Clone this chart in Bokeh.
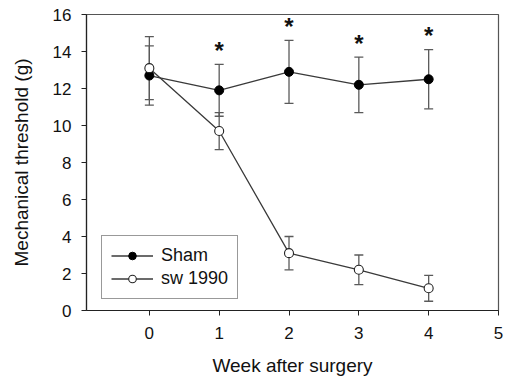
from bokeh.plotting import figure
from bokeh.models import (ColumnDataSource, Whisker, TeeHead, Legend, LegendItem,
                          FixedTicker, Range1d)
from bokeh.core.properties import value
from bokeh.embed import file_html
from bokeh.resources import INLINE

weeks = [0, 1, 2, 3, 4]
sham_mean = [12.7, 11.9, 12.9, 12.2, 12.5]
sham_err = [1.6, 1.4, 1.7, 1.5, 1.6]
sw_mean = [13.1, 9.7, 3.1, 2.2, 1.2]
sw_err = [1.7, 1.0, 0.9, 0.8, 0.7]
star_weeks = [1, 2, 3, 4]
x_ticks = [0, 1, 2, 3, 4, 5]
y_ticks = [0, 2, 4, 6, 8, 10, 12, 14, 16]

FONT = "Liberation Sans"
LINE = "#3a3a3a"
ERR = "#5a5a5a"

p = figure(width=505, height=383, output_backend="svg", toolbar_location=None,
           x_range=Range1d(-0.9, 5), y_range=Range1d(0, 16),
           min_border_left=86, min_border_right=7, min_border_top=14,
           min_border_bottom=73)
p.background_fill_color = "white"
p.border_fill_color = "white"
p.outline_line_color = "#555555"
p.outline_line_width = 1.2
p.xgrid.visible = False
p.ygrid.visible = False

for ax in (p.xaxis[0], p.yaxis[0]):
    ax.axis_line_color = "#222222"
    ax.axis_line_width = 1.2
    ax.major_tick_line_color = "#222222"
    ax.major_tick_in = 0
    ax.major_tick_out = 5
    ax.minor_tick_line_color = None
    ax.major_label_text_font = FONT
    ax.major_label_text_font_size = "17px"
    ax.major_label_text_color = "#111111"
    ax.axis_label_text_font = FONT
    ax.axis_label_text_font_size = "19px"
    ax.axis_label_text_font_style = "normal"
    ax.axis_label_text_color = "#111111"

p.xaxis.ticker = FixedTicker(ticks=x_ticks)
p.yaxis.ticker = FixedTicker(ticks=y_ticks)
p.xaxis.axis_label = "Week after surgery"
p.yaxis.axis_label = "Mechanical threshold (g)"
p.xaxis.major_label_standoff = 11
p.xaxis.axis_label_standoff = 13
p.yaxis.major_label_standoff = 10
p.yaxis.axis_label_standoff = 18

sham_src = ColumnDataSource(dict(
    x=weeks, y=sham_mean,
    lo=[m - e for m, e in zip(sham_mean, sham_err)],
    hi=[m + e for m, e in zip(sham_mean, sham_err)]))
sw_src = ColumnDataSource(dict(
    x=weeks, y=sw_mean,
    lo=[m - e for m, e in zip(sw_mean, sw_err)],
    hi=[m + e for m, e in zip(sw_mean, sw_err)]))

for src in (sham_src, sw_src):
    w = Whisker(source=src, base="x", lower="lo", upper="hi",
                line_color=ERR, line_width=1.3,
                upper_head=TeeHead(size=9, line_color=ERR, line_width=1.3),
                lower_head=TeeHead(size=9, line_color=ERR, line_width=1.3))
    p.add_layout(w)

l_sham = p.line("x", "y", source=sham_src, line_color=LINE, line_width=1.3)
l_sw = p.line("x", "y", source=sw_src, line_color=LINE, line_width=1.3)
m_sham = p.scatter("x", "y", source=sham_src, size=9, fill_color="black",
                   line_color="black", line_width=1)
m_sw = p.scatter("x", "y", source=sw_src, size=9, fill_color="white",
                 line_color="#222222", line_width=1.1)

star_y = [sham_mean[weeks.index(w)] + sham_err[weeks.index(w)] + 0.75 for w in star_weeks]
p.text(x=star_weeks, y=star_y, text=["*"] * len(star_weeks),
       text_font=value(FONT), text_font_size="24px", text_font_style="bold",
       text_align="center", text_baseline="middle", text_color="#111111")

legend = Legend(items=[LegendItem(label="Sham", renderers=[l_sham, m_sham]),
                       LegendItem(label="sw 1990", renderers=[l_sw, m_sw])],
                location=(15, 11), orientation="vertical")
legend.label_text_font = FONT
legend.label_text_font_size = "18px"
legend.label_text_color = "#111111"
legend.border_line_color = "#333333"
legend.border_line_width = 1.2
legend.background_fill_alpha = 1
legend.glyph_width = 42
legend.glyph_height = 19
legend.label_height = 19
legend.spacing = 2
legend.padding = 9
legend.margin = 0
legend.label_standoff = 8
p.add_layout(legend, "center")

open("out.html", "w").write(file_html(p, INLINE))
